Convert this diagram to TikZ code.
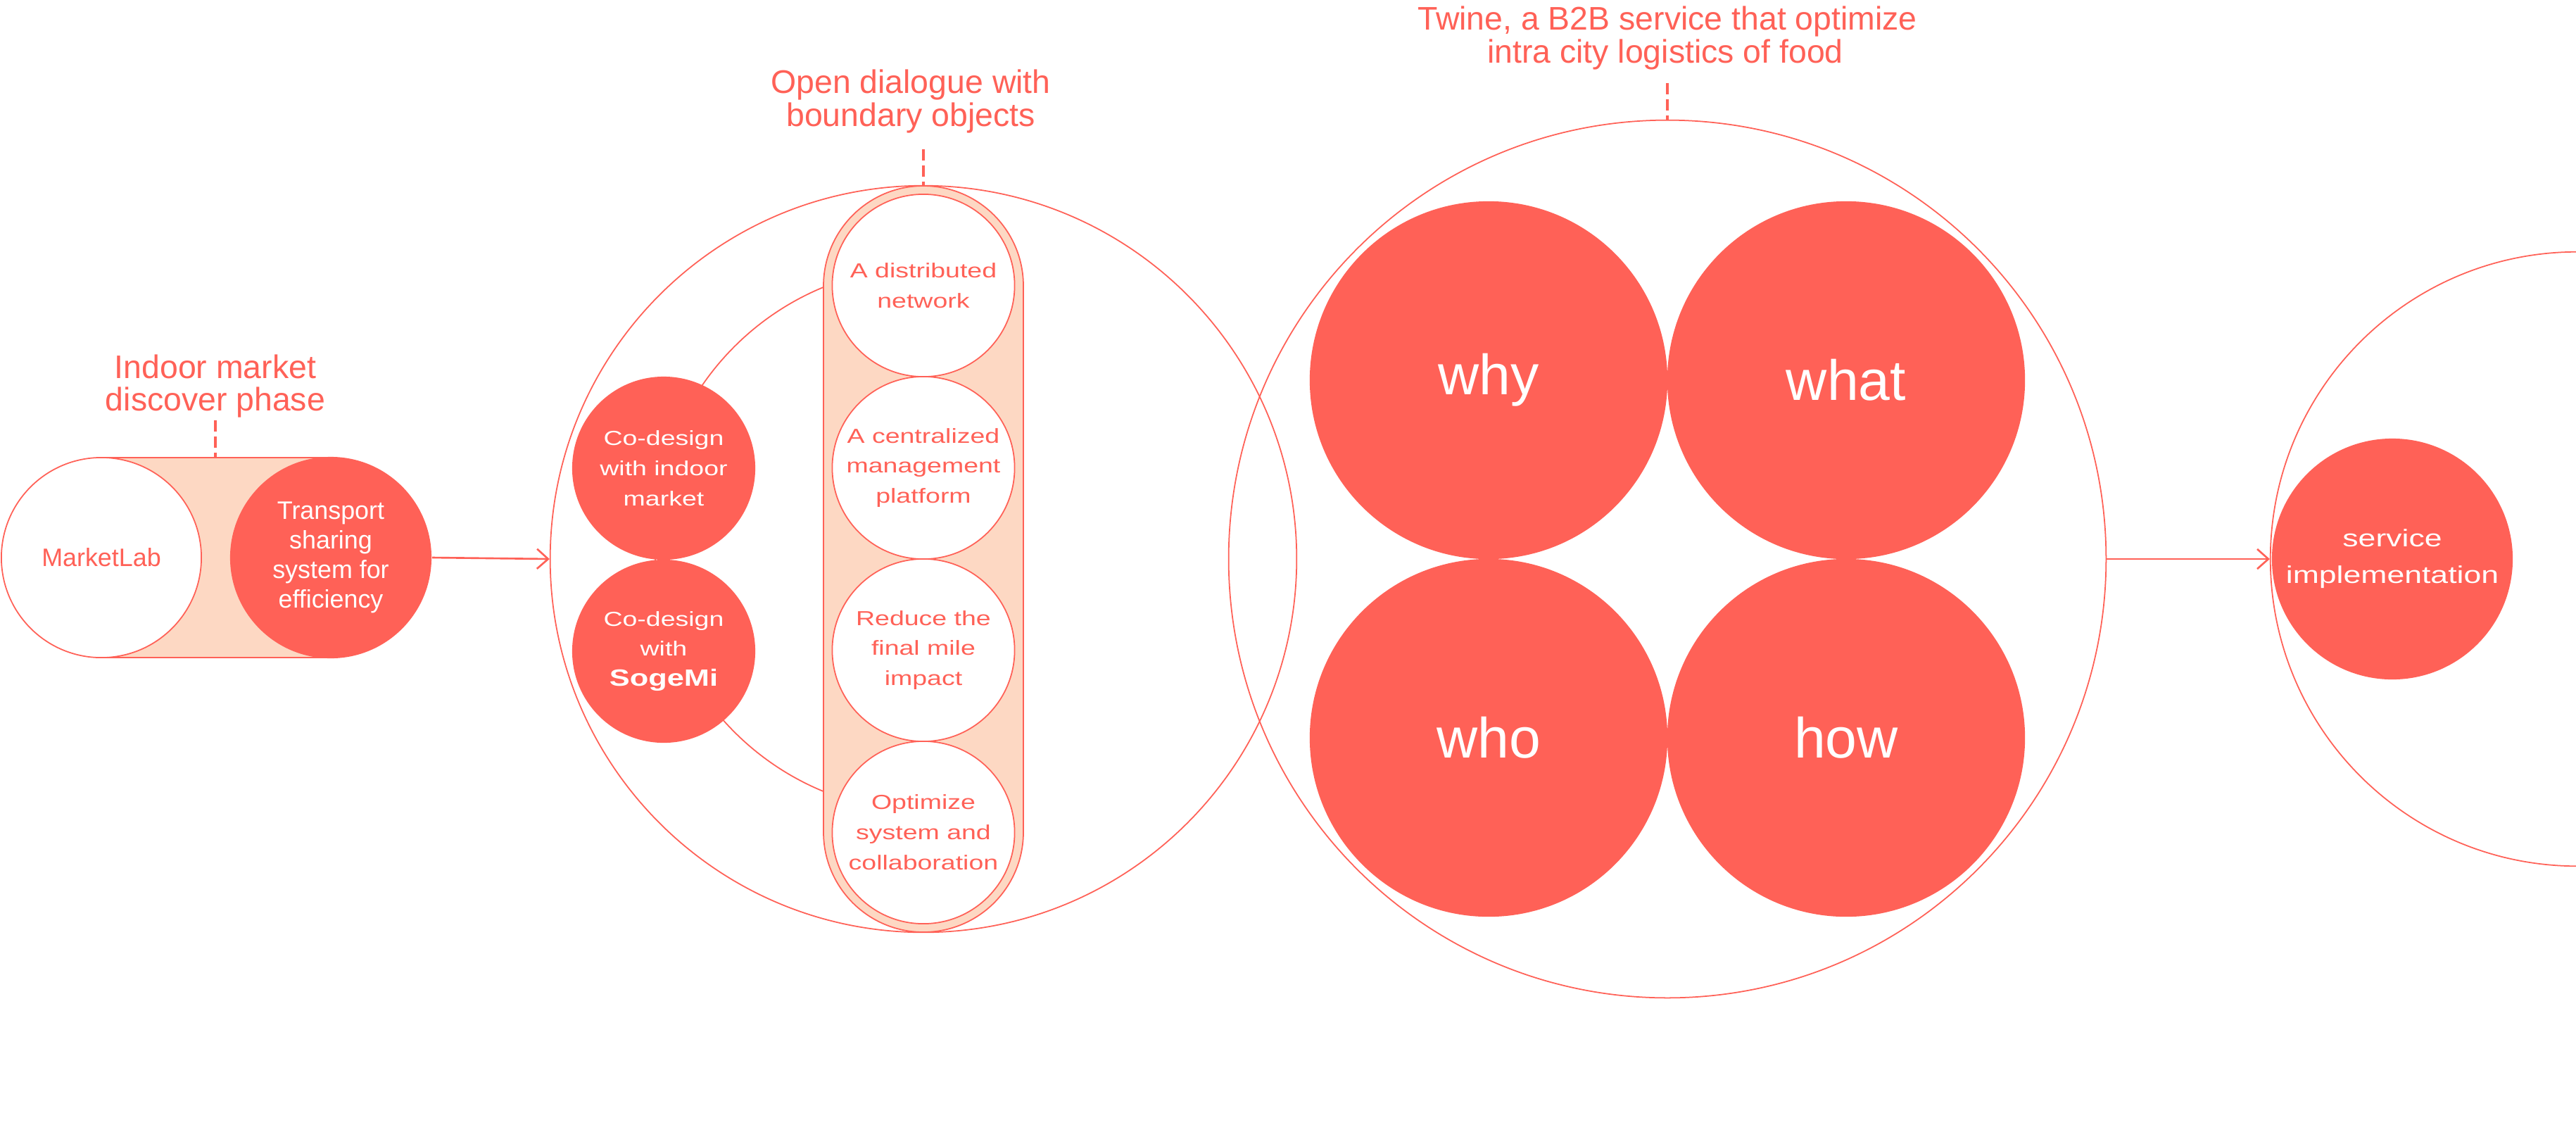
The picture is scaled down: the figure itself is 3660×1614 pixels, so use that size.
\documentclass[tikz,border=0pt]{standalone}
\usepackage{fontspec}
\setmainfont{Liberation Sans}
\newfontfamily\widefont[FakeStretch=1.3]{Liberation Sans}
\usetikzlibrary{arrows.meta}
\definecolor{coral}{HTML}{FF6157}
\definecolor{peach}{HTML}{FDD8C3}
\tikzset{
  outl/.style={draw=coral, line width=0.5pt},
  redc/.style={circle, fill=coral, inner sep=0pt, text=white, align=center},
  whitec/.style={circle, draw=coral, line width=0.5pt, fill=white, inner sep=0pt, text=coral, align=center},
  ringc/.style={circle, draw=coral, line width=0.5pt, inner sep=0pt},
  titletxt/.style={text=coral, font=\fontsize{13.2}{13.4}\selectfont, anchor=base, inner sep=0pt},
  dashln/.style={draw=coral, line width=1.1pt, dash pattern=on 4.5pt off 2pt},
  arr/.style={draw=coral, line width=0.75pt, -{Straight Barb[length=4.5pt,width=8pt]}},
  bottomlab/.style={text=white, font=\fontsize{14.8}{16}\selectfont, anchor=base west, inner sep=0pt},
  plainfont/.style={font=\fontsize{10.2}{12}\selectfont},
  widetxt/.style={font=\widefont\fontsize{8.2}{12.2}\selectfont},
  bigword/.style={font=\fontsize{22.9}{26}\selectfont}
}
\begin{document}
\begin{tikzpicture}[x=0.01cm,y=-0.01cm]
\path[use as bounding box] (0,0) rectangle (3660,1614);
\clip (0,0) rectangle (3660,1614);
\fill[white] (0,0) rectangle (3660,1614);

% ---------- left group ----------
\fill[peach] (144,650) rectangle (470,934);
\draw[outl] (144,650) -- (470,650);
\draw[outl] (144,934) -- (470,934);
\node[whitec, minimum size=2.84cm, plainfont] (mlab) at (144,792) {MarketLab};
\node[redc, minimum size=2.86cm, plainfont] (trans) at (470,792) {Transport\\sharing\\system for\\efficiency};
\node[titletxt] (t1a) at (306,537) {Indoor market};
\node[titletxt] (t1b) at (306,583) {discover phase};
\coordinate (d1s) at (306,597);
\coordinate (d1e) at (306,650);
\draw[dashln] (d1s) -- (d1e);

% ---------- middle group ----------
\node[ringc, minimum size=10.6cm] (bigA) at (1312,794) {};
\begin{scope}
  \clip (0,0) rectangle (1170,1614);
  \draw[outl] (1317,766) circle[radius=387];
\end{scope}
\draw[outl, fill=peach, rounded corners=1.42cm] (1170,264) rectangle (1454,1324);
\node[whitec, minimum size=2.59cm, widetxt] (b1) at (1312,405.5) {A distributed\\network};
\node[whitec, minimum size=2.59cm, widetxt] (b2) at (1312,664.5) {A centralized\\management\\platform};
\node[whitec, minimum size=2.59cm, widetxt] (b3) at (1312,923.5) {Reduce the\\final mile\\impact};
\node[whitec, minimum size=2.59cm, widetxt] (b4) at (1312,1182.5) {Optimize\\system and\\collaboration};
\node[redc, minimum size=2.6cm, widetxt] (cd1) at (943,665) {Co-design\\with indoor\\market};
\node[redc, minimum size=2.6cm, widetxt] (cd2) at (943,925) {Co-design\\with\\{\fontsize{9.5}{12.2}\selectfont\bfseries SogeMi}};
\node[titletxt] (t2a) at (1294,132) {Open dialogue with};
\node[titletxt] (t2b) at (1294,179) {boundary objects};
\coordinate (d2s) at (1312,212);
\draw[dashln] (d2s) -- (bigA.north);

\draw[arr] (trans.east) -- (bigA.west);

% ---------- Twine group ----------
\node[ringc, minimum size=12.46cm] (bigB) at (2369,794) {};
\node[redc, minimum size=5.08cm, bigword] (why) at (2115,540) {why};
\node[redc, minimum size=5.08cm, bigword] (what) at (2623,540) {what};
\node[redc, minimum size=5.08cm, bigword] (who) at (2115,1048) {who};
\node[redc, minimum size=5.08cm, bigword] (how) at (2623,1048) {how};
\node[titletxt] (t3a) at (2369,42) {Twine, a B2B service that optimize};
\node[titletxt] (t3b) at (2366,89) {intra city logistics of food};
\coordinate (d3s) at (2369,118);
\draw[dashln] (d3s) -- (bigB.north);

% ---------- right group ----------
\node[ringc, minimum size=8.72cm] (bigC) at (3662,794) {};
\node[redc, minimum size=3.42cm, font=\widefont\fontsize{9.75}{14.8}\selectfont] (serv) at (3399,794) {service\\implementation};
\draw[arr] (bigB.east) -- (bigC.west);

% ---------- bottom phase labels (white) ----------
\node[bottomlab] (p1) at (111,1550) {1. Concept generation};
\node[bottomlab] (p2) at (1105,1550) {2. Co-design};
\node[bottomlab] (p3) at (2310,1550) {3. PSS design};
\node[bottomlab] (p4) at (3224,1550) {4. Prototype};
\coordinate (ch1) at (3572,1555);
\coordinate (ch2) at (3604,1583);
\coordinate (ch3) at (3572,1612);
\draw[white, line width=0.6pt] (ch1) -- (ch2) -- (ch3);
\end{tikzpicture}
\end{document}
